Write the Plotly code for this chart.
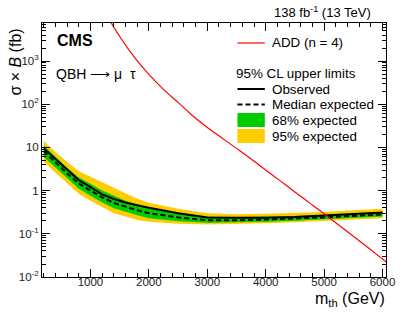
import plotly.graph_objects as go

# ---------------- data ----------------
mass = [200, 400, 600, 800, 1000, 1200, 1400, 1600, 1800, 2000,
        2500, 3000, 3500, 4000, 4500, 5000, 5500, 6000]
observed = [9.5, 5.5, 3.1, 1.75, 1.2, 0.82, 0.64, 0.53, 0.46, 0.40,
            0.30, 0.24, 0.235, 0.235, 0.245, 0.265, 0.285, 0.31]
expected = [8.2, 4.5, 2.5, 1.45, 1.02, 0.70, 0.52, 0.42, 0.35, 0.30,
            0.24, 0.205, 0.205, 0.215, 0.225, 0.24, 0.26, 0.28]
exp68_lo = [6.0, 3.4, 1.9, 1.1, 0.76, 0.53, 0.39, 0.32, 0.27, 0.23,
            0.195, 0.18, 0.182, 0.19, 0.20, 0.215, 0.235, 0.25]
exp68_hi = [11.0, 6.1, 3.4, 2.0, 1.45, 1.0, 0.75, 0.58, 0.47, 0.40,
            0.31, 0.25, 0.245, 0.25, 0.26, 0.275, 0.295, 0.32]
exp95_lo = [4.6, 2.6, 1.45, 0.85, 0.58, 0.41, 0.30, 0.25, 0.21, 0.19,
            0.17, 0.165, 0.168, 0.175, 0.185, 0.20, 0.215, 0.23]
exp95_hi = [14.0, 7.8, 4.6, 2.8, 2.1, 1.55, 1.15, 0.85, 0.65, 0.52,
            0.38, 0.30, 0.285, 0.29, 0.30, 0.32, 0.35, 0.38]

add_mass = [1250, 1500, 1750, 2000, 2250, 2500, 2750, 3000, 3250, 3500, 3750,
            4000, 4250, 4500, 4750, 5000, 5250, 5500, 5750, 6000, 6250]
add_xsec = [13200, 3700, 1230, 490, 220, 110, 54, 29, 16.6, 9.5, 5.4,
            3.0, 1.68, 0.93, 0.52, 0.29, 0.16, 0.088, 0.048, 0.026, 0.014]

x_tickvals = [1000, 2000, 3000, 4000, 5000, 6000]
y_tickvals = [0.01, 0.1, 1, 10, 100, 1000]
y_ticktext = ["10<sup>-2</sup>", "10<sup>-1</sup>", "1", "10", "10<sup>2</sup>", "10<sup>3</sup>"]

# ---------------- styling ----------------
W, H = 407, 318
L, R, T, B = 42, 13, 23, 41
FONT = "Liberation Sans, Arial, sans-serif"
GREEN = "#00cc00"
YELLOW = "#ffcc00"
RED = "#ff0000"

def px(x):
    return (x - L) / (W - L - R)

def py(y):
    return (H - B - y) / (H - T - B)

fig = go.Figure()

# 95% band
fig.add_trace(go.Scatter(x=mass, y=exp95_lo, mode="lines", line=dict(width=0, color=YELLOW),
                         showlegend=False, hoverinfo="skip"))
fig.add_trace(go.Scatter(x=mass, y=exp95_hi, mode="lines", line=dict(width=0, color=YELLOW),
                         fill="tonexty", fillcolor=YELLOW, showlegend=False, hoverinfo="skip"))
# 68% band
fig.add_trace(go.Scatter(x=mass, y=exp68_lo, mode="lines", line=dict(width=0, color=GREEN),
                         showlegend=False, hoverinfo="skip"))
fig.add_trace(go.Scatter(x=mass, y=exp68_hi, mode="lines", line=dict(width=0, color=GREEN),
                         fill="tonexty", fillcolor=GREEN, showlegend=False, hoverinfo="skip"))
# expected
fig.add_trace(go.Scatter(x=mass, y=expected, mode="lines",
                         line=dict(color="black", width=2, dash="5px,3px"), showlegend=False))
# observed
fig.add_trace(go.Scatter(x=mass, y=observed, mode="lines",
                         line=dict(color="black", width=2), showlegend=False))
# ADD
fig.add_trace(go.Scatter(x=add_mass, y=add_xsec, mode="lines", line_shape="spline",
                         line=dict(color=RED, width=1.2), showlegend=False))

axis_common = dict(showline=True, linecolor="black", linewidth=1, mirror="allticks",
                   ticks="inside", tickcolor="black", ticklen=8, tickwidth=1,
                   showgrid=False, zeroline=False,
                   tickfont=dict(family=FONT, size=11.5, color="#222"))

fig.update_xaxes(range=[170, 6060], tickmode="array", tickvals=x_tickvals,
                 ticktext=[str(v) for v in x_tickvals], ticklabelstandoff=-6,
                 minor=dict(tickmode="linear", tick0=0, dtick=200, ticks="inside",
                            ticklen=4, tickcolor="black", showgrid=False),
                 **axis_common)
fig.update_yaxes(type="log", range=[-2, 3.88], tickmode="array", tickvals=y_tickvals,
                 ticktext=y_ticktext,
                 minor=dict(ticks="inside", ticklen=4, tickcolor="black", dtick="D1", showgrid=False),
                 **axis_common)

ann = []
# axis titles
ann.append(dict(text="σ × <i>B</i> (fb)", x=px(15), y=py(62), xref="paper", yref="paper",
                textangle=-90, showarrow=False, xanchor="center", yanchor="middle",
                font=dict(family=FONT, size=16, color="black")))
ann.append(dict(text="m<sub>th</sub> (GeV)", x=px(395), y=py(299), xref="paper", yref="paper",
                showarrow=False, xanchor="right", yanchor="middle",
                font=dict(family=FONT, size=16, color="black")))
# header
ann.append(dict(text="138 fb<sup>-1</sup> (13 TeV)", x=px(381), y=py(12), xref="paper", yref="paper",
                showarrow=False, xanchor="right", yanchor="middle",
                font=dict(family=FONT, size=13, color="black")))
ann.append(dict(text="<b>CMS</b>", x=px(55), y=py(40), xref="paper", yref="paper",
                showarrow=False, xanchor="left", yanchor="middle",
                font=dict(family=FONT, size=16, color="black")))
ann.append(dict(text="QBH ⟶ μ  τ", x=px(54), y=py(74), xref="paper", yref="paper",
                showarrow=False, xanchor="left", yanchor="middle",
                font=dict(family=FONT, size=14, color="black")))

# legend
leg_font = dict(family=FONT, size=13.4, color="black")
shapes = []
shapes.append(dict(type="line", xref="paper", yref="paper", x0=px(242), x1=px(270),
                   y0=py(43), y1=py(43), line=dict(color=RED, width=1.2)))
ann.append(dict(text="ADD (n = 4)", x=px(275), y=py(43), xref="paper", yref="paper",
                showarrow=False, xanchor="left", yanchor="middle", font=leg_font))
ann.append(dict(text="95% CL upper limits", x=px(238), y=py(73), xref="paper", yref="paper",
                showarrow=False, xanchor="left", yanchor="middle", font=leg_font))
shapes.append(dict(type="line", xref="paper", yref="paper", x0=px(242), x1=px(270),
                   y0=py(89), y1=py(89), line=dict(color="black", width=2)))
ann.append(dict(text="Observed", x=px(275), y=py(89), xref="paper", yref="paper",
                showarrow=False, xanchor="left", yanchor="middle", font=leg_font))
shapes.append(dict(type="line", xref="paper", yref="paper", x0=px(242), x1=px(270),
                   y0=py(104.5), y1=py(104.5), line=dict(color="black", width=2, dash="5px,3px")))
ann.append(dict(text="Median expected", x=px(275), y=py(104.5), xref="paper", yref="paper",
                showarrow=False, xanchor="left", yanchor="middle", font=leg_font))
shapes.append(dict(type="rect", xref="paper", yref="paper", x0=px(242), x1=px(270),
                   y0=py(113), y1=py(127), fillcolor=GREEN, line=dict(width=0)))
ann.append(dict(text="68% expected", x=px(275), y=py(120), xref="paper", yref="paper",
                showarrow=False, xanchor="left", yanchor="middle", font=leg_font))
shapes.append(dict(type="rect", xref="paper", yref="paper", x0=px(242), x1=px(270),
                   y0=py(129), y1=py(143), fillcolor=YELLOW, line=dict(width=0)))
ann.append(dict(text="95% expected", x=px(275), y=py(136), xref="paper", yref="paper",
                showarrow=False, xanchor="left", yanchor="middle", font=leg_font))

fig.update_layout(width=W, height=H, margin=dict(l=L, r=R, t=T, b=B),
                  paper_bgcolor="white", plot_bgcolor="white",
                  annotations=ann, shapes=shapes, showlegend=False,
                  font=dict(family=FONT))

fig.write_html("out.html", config={"displayModeBar": False},
               post_script="document.body.style.margin='0';document.body.style.overflow='hidden';")
